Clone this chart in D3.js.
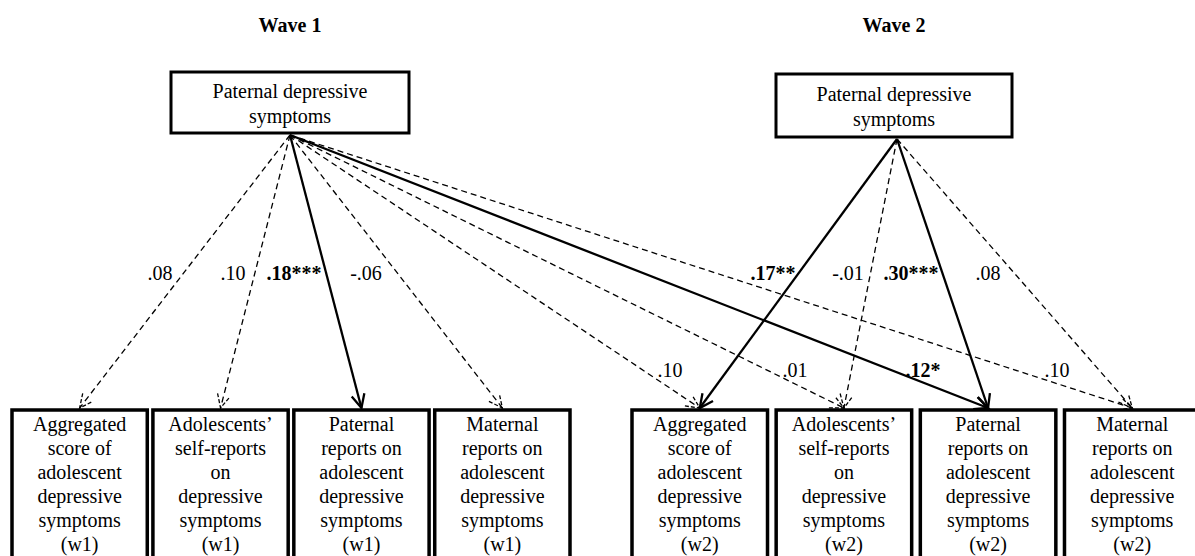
<!DOCTYPE html>
<html>
<head>
<meta charset="utf-8">
<script src="https://cdn.jsdelivr.net/npm/d3@7"></script>
<style>
  body { margin: 0; background: #fff; }
</style>
</head>
<body>
<svg id="chart" width="1195" height="556" font-family="'Liberation Serif', 'DejaVu Serif', serif"></svg>
<script>
// waves and predictor
const waves = ["Wave 1", "Wave 2"];
const predictorLines = ["Paternal depressive", "symptoms"];

// outcome boxes (same four outcomes per wave)
const outcomeLines = [
  ["Aggregated", "score of", "adolescent", "depressive", "symptoms"],
  ["Adolescents\u2019", "self-reports", "on", "depressive", "symptoms"],
  ["Paternal", "reports on", "adolescent", "depressive", "symptoms"],
  ["Maternal", "reports on", "adolescent", "depressive", "symptoms"]
];
const waveTags = ["(w1)", "(w2)"];

// path coefficients
const w1ToW1 = [".08", ".10", ".18***", "-.06"];
const w1ToW2 = [".10", ".01", ".12*", ".10"];
const w2ToW2 = [".17**", "-.01", ".30***", ".08"];
// significant paths are drawn solid + bold
const w1ToW1Sig = [false, false, true, false];
const w1ToW2Sig = [false, false, true, false];
const w2ToW2Sig = [true, false, true, false];

// ---- layout ----
const svg = d3.select("#chart");
const W = 1195, H = 556;
const boxTop = 410;

const xBand = [
  d3.scaleBand().domain(d3.range(4)).range([12, 570]).paddingInner(0.04),
  d3.scaleBand().domain(d3.range(4)).range([632, 1200]).paddingInner(0.06)
];
const predBox = [
  { x0: 171, x1: 409, y0: 72, y1: 133, apex: [290, 135] },
  { x0: 776, x1: 1012, y0: 74, y1: 137, apex: [897, 139] }
];
// label anchor positions (layout only)
const labelPos = {
  w1w1: [[160, 280], [233, 280], [294, 280], [366, 280]],
  w1w2: [[670, 377], [795, 377], [923, 377], [1057, 377]],
  w2w2: [[773, 280], [848, 280], [911, 280], [988, 280]]
};

const font = 20;

// wave titles
svg.selectAll("text.wave")
  .data(waves)
  .enter()
  .append("text")
  .attr("class", "wave")
  .attr("x", (d, i) => (predBox[i].x0 + predBox[i].x1) / 2)
  .attr("y", 32)
  .attr("text-anchor", "middle")
  .attr("font-weight", "bold")
  .attr("font-size", font)
  .text(d => d);

// predictor boxes
predBox.forEach(b => {
  svg.append("rect")
    .attr("x", b.x0).attr("y", b.y0)
    .attr("width", b.x1 - b.x0).attr("height", b.y1 - b.y0)
    .attr("fill", "#fff").attr("stroke", "#000").attr("stroke-width", 3);
  const t = svg.append("text")
    .attr("text-anchor", "middle")
    .attr("font-size", font);
  predictorLines.forEach((ln, k) => {
    t.append("tspan")
      .attr("x", (b.x0 + b.x1) / 2)
      .attr("y", (b.y0 + b.y1) / 2 - 5 + k * 25)
      .text(ln);
  });
});

// outcome boxes
waveTags.forEach((tag, w) => {
  outcomeLines.forEach((lines, i) => {
    const x0 = xBand[w](i), bw = xBand[w].bandwidth();
    svg.append("rect")
      .attr("x", x0).attr("y", boxTop)
      .attr("width", bw).attr("height", H - boxTop + 10)
      .attr("fill", "#fff").attr("stroke", "#000").attr("stroke-width", 3.5);
    const t = svg.append("text")
      .attr("text-anchor", "middle")
      .attr("font-size", font);
    lines.concat([tag]).forEach((ln, k) => {
      t.append("tspan")
        .attr("x", x0 + bw / 2)
        .attr("y", boxTop + 21 + k * 24)
        .text(ln);
    });
  });
});

// arrows
const arrowG = svg.append("g");
function drawArrow(from, to, sig) {
  const [x1, y1] = from, [x2, y2] = to;
  arrowG.append("line")
    .attr("x1", x1).attr("y1", y1).attr("x2", x2).attr("y2", y2)
    .attr("stroke", "#000")
    .attr("stroke-width", sig ? 2.3 : 1.3)
    .attr("stroke-dasharray", sig ? null : "6,4");
  const ang = Math.atan2(y2 - y1, x2 - x1);
  const len = 15, spread = 0.45;
  const head = d3.path();
  head.moveTo(x2 - len * Math.cos(ang - spread), y2 - len * Math.sin(ang - spread));
  head.lineTo(x2, y2);
  head.lineTo(x2 - len * Math.cos(ang + spread), y2 - len * Math.sin(ang + spread));
  arrowG.append("path")
    .attr("d", head.toString())
    .attr("fill", "none")
    .attr("stroke", "#000")
    .attr("stroke-width", sig ? 2.3 : 1.3)
    .attr("stroke-dasharray", sig ? null : "4,2");
}
function target(w, i) {
  return [xBand[w](i) + xBand[w].bandwidth() / 2, boxTop - 2];
}

w1ToW1.forEach((c, i) => drawArrow(predBox[0].apex, target(0, i), w1ToW1Sig[i]));
w1ToW2.forEach((c, i) => drawArrow(predBox[0].apex, target(1, i), w1ToW2Sig[i]));
w2ToW2.forEach((c, i) => drawArrow(predBox[1].apex, target(1, i), w2ToW2Sig[i]));

// coefficient labels
function drawLabels(coefs, sig, pos) {
  coefs.forEach((c, i) => {
    svg.append("text")
      .attr("x", pos[i][0]).attr("y", pos[i][1])
      .attr("text-anchor", "middle")
      .attr("font-size", font)
      .attr("font-weight", sig[i] ? "bold" : "normal")
      .text(c);
  });
}
drawLabels(w1ToW1, w1ToW1Sig, labelPos.w1w1);
drawLabels(w1ToW2, w1ToW2Sig, labelPos.w1w2);
drawLabels(w2ToW2, w2ToW2Sig, labelPos.w2w2);
</script>
</body>
</html>
